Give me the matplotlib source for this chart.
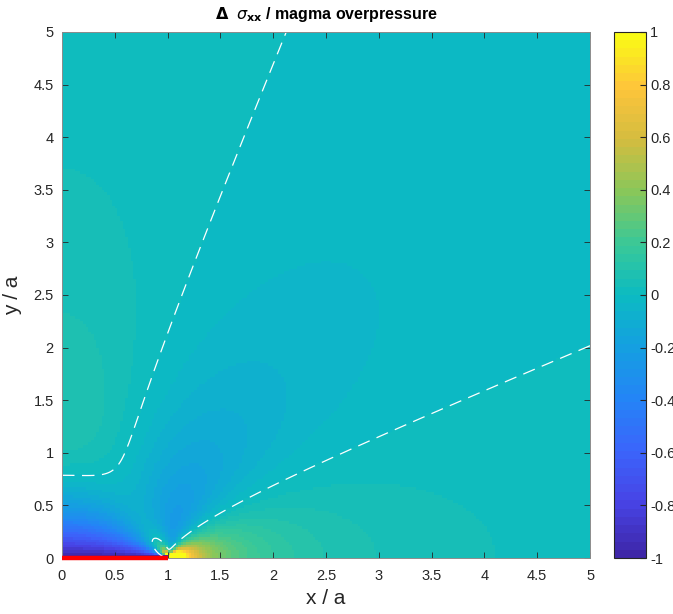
import numpy as np
import matplotlib
matplotlib.use("Agg")
import matplotlib.pyplot as plt
from matplotlib.colors import LinearSegmentedColormap

plt.rcParams["font.family"] = ["Liberation Sans", "DejaVu Sans"]
plt.rcParams["axes.unicode_minus"] = False

# pressurised 2D crack (Westergaard), normalised by crack half-length and overpressure
crack_halflength = 1.0
overpressure = 1.0
grid_step = 0.025
x_range = (0.0, 5.0)
y_range = (0.0, 5.0)
contour_levels = [0.0]
color_limits = (-1.0, 1.0)
tip_value = 4.0

axis_ticks = np.arange(0, 5.01, 0.5)
axis_ticklabels = ["0", "0.5", "1", "1.5", "2", "2.5", "3", "3.5", "4", "4.5", "5"]
cbar_ticks = np.arange(-1, 1.01, 0.2)
cbar_ticklabels = ["-1", "-0.8", "-0.6", "-0.4", "-0.2", "0", "0.2", "0.4", "0.6", "0.8", "1"]

# parula-like colormap (64 levels)
parula_anchors = [
    (0.00, (0.2422, 0.1504, 0.6603)),
    (0.10, (0.2790, 0.2650, 0.9000)),
    (0.20, (0.2300, 0.3950, 0.9850)),
    (0.30, (0.1400, 0.5200, 0.9650)),
    (0.40, (0.0800, 0.6250, 0.8800)),
    (0.50, (0.0450, 0.7350, 0.7600)),
    (0.60, (0.2300, 0.7850, 0.5900)),
    (0.70, (0.5400, 0.7800, 0.3500)),
    (0.80, (0.8300, 0.7400, 0.2500)),
    (0.90, (0.9950, 0.7700, 0.2300)),
    (1.00, (0.9769, 0.9839, 0.0805)),
]
parula = LinearSegmentedColormap.from_list("parula", parula_anchors, N=64)


def sigma_xx(x, y, a=crack_halflength, p=overpressure):
    z = x + 1j * y
    root = np.sqrt(z - a) * np.sqrt(z + a)
    with np.errstate(divide="ignore", invalid="ignore"):
        Z = p * (z / root - 1.0)
        dZ = -p * a**2 / root**3
        s = Z.real - y * dZ.imag
    return np.nan_to_num(s, nan=tip_value, posinf=tip_value, neginf=-tip_value)


xc = np.arange(x_range[0], x_range[1] + 1e-9, grid_step)
yc = np.arange(y_range[0], y_range[1] + 1e-9, grid_step)
X, Y = np.meshgrid(xc, yc)
S = sigma_xx(X, Y)

xf = np.linspace(x_range[0], x_range[1], 1001)
yf = np.linspace(y_range[0], y_range[1], 1001)
XF, YF = np.meshgrid(xf, yf)
SF = sigma_xx(XF + 1e-7, YF + 1e-7)

fig = plt.figure(figsize=(6.73, 6.14), dpi=100)
ax = fig.add_axes([0.0921, 0.0912, 0.7846, 0.8567])
cax = fig.add_axes([0.9123, 0.0912, 0.0475, 0.8567])

# flat shading, each cell coloured by its lower-left node
mesh = ax.pcolormesh(xc, yc, S[:-1, :-1], cmap=parula, vmin=color_limits[0],
                     vmax=color_limits[1], shading="flat", rasterized=True)
ax.contour(XF, YF, SF, levels=contour_levels, colors="white", linewidths=0.9,
           linestyles=[(0, (10, 6))])
ax.plot([0, crack_halflength], [0, 0], color="red", lw=3.2, solid_capstyle="butt",
        clip_on=False, zorder=5)

ax.set_xlim(*x_range)
ax.set_ylim(*y_range)
ax.set_xticks(axis_ticks)
ax.set_xticklabels(axis_ticklabels)
ax.set_yticks(axis_ticks)
ax.set_yticklabels(axis_ticklabels)
ax.tick_params(direction="in", length=4, width=0.6, colors="#262626", labelsize=10.5,
               top=True, right=True)
ax.tick_params(axis="x", pad=8)
ax.tick_params(axis="y", pad=6)
for sp in ax.spines.values():
    sp.set_color("#8c8c8c")
    sp.set_linewidth(0.7)

ax.set_xlabel("x / a", fontsize=15, color="#262626", labelpad=4)
ax.set_ylabel("y / a", fontsize=15, color="#262626", labelpad=8)
ax.set_title(r"$\mathbf{\Delta}$  $\sigma_{\mathbf{xx}}$ / magma overpressure",
             fontsize=11.5, fontweight="bold", color="black", pad=9)

cb = fig.colorbar(mesh, cax=cax, ticks=cbar_ticks)
cb.ax.set_yticklabels(cbar_ticklabels)
cb.ax.tick_params(direction="in", length=4, width=0.8, colors="#262626", labelsize=10.5, pad=3)
cb.outline.set_edgecolor("#262626")
cb.outline.set_linewidth(0.8)

fig.savefig("out.png", dpi=100)
plt.close(fig)
